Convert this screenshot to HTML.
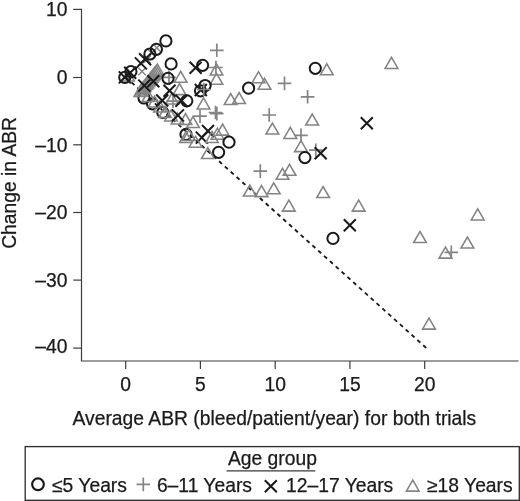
<!DOCTYPE html>
<html lang="en"><head><meta charset="utf-8"><title>Change in ABR</title>
<style>html,body{margin:0;padding:0;background:#fff}svg{display:block;will-change:transform}text{stroke:#1a1a1a;stroke-width:.25px}</style></head>
<body>
<svg width="520" height="501" viewBox="0 0 520 501" font-family="'Liberation Sans', Arial, sans-serif" fill="#1a1a1a">
<rect width="520" height="501" fill="#fff"/>
<g stroke="#3c3c3c" stroke-width="1.2" fill="none">
<path d="M81.5 8.8V361.0H518.5"/>
<path d="M73.2 9.4H81.5"/>
<path d="M73.2 77.5H81.5"/>
<path d="M73.2 144.8H81.5"/>
<path d="M73.2 212.5H81.5"/>
<path d="M73.2 280.1H81.5"/>
<path d="M73.2 348.1H81.5"/>
<path d="M125.7 361.0V369.0"/>
<path d="M200.4 361.0V369.0"/>
<path d="M275.2 361.0V369.0"/>
<path d="M349.9 361.0V369.0"/>
<path d="M424.7 361.0V369.0"/>
</g>
<g font-size="19.3">
<text x="67.4" y="16.2" text-anchor="end">10</text>
<text x="67.4" y="84.3" text-anchor="end">0</text>
<text x="67.4" y="151.6" text-anchor="end">–10</text>
<text x="67.4" y="219.3" text-anchor="end">–20</text>
<text x="67.4" y="286.9" text-anchor="end">–30</text>
<text x="67.4" y="352.8" text-anchor="end">–40</text>
<text x="125.7" y="391.2" text-anchor="middle">0</text>
<text x="200.4" y="391.2" text-anchor="middle">5</text>
<text x="275.2" y="391.2" text-anchor="middle">10</text>
<text x="349.9" y="391.2" text-anchor="middle">15</text>
<text x="424.7" y="391.2" text-anchor="middle">20</text>
</g>
<text x="274.4" y="425.4" font-size="19.3" text-anchor="middle">Average ABR (bleed/patient/year) for both trials</text>
<text transform="translate(16.2,182.9) rotate(-90)" font-size="19.3" text-anchor="middle">Change in ABR</text>
<path d="M125.7 77.1L426.2 347.9" stroke="#1a1a1a" stroke-width="1.85" stroke-dasharray="4 3.853" fill="none"/>
<circle cx="144.0" cy="98.0" r="5.6" fill="none" stroke="#1a1a1a" stroke-width="2"/>
<circle cx="152.5" cy="103.8" r="5.6" fill="none" stroke="#1a1a1a" stroke-width="2"/>
<circle cx="162.8" cy="112.4" r="5.6" fill="none" stroke="#1a1a1a" stroke-width="2"/>
<circle cx="186.0" cy="134.4" r="5.6" fill="none" stroke="#1a1a1a" stroke-width="2"/>
<circle cx="165.9" cy="40.9" r="5.6" fill="none" stroke="#1a1a1a" stroke-width="2"/>
<circle cx="171.1" cy="63.9" r="5.6" fill="none" stroke="#1a1a1a" stroke-width="2"/>
<circle cx="315.3" cy="68.3" r="5.6" fill="none" stroke="#1a1a1a" stroke-width="2"/>
<path d="M320.4 74.8L326.8 63.8L333.2 74.8Z" fill="none" stroke="#848484" stroke-width="1.55" stroke-linejoin="miter"/>
<path d="M210.0 50.3H223.6M216.8 43.5V57.1" fill="none" stroke="#848484" stroke-width="1.7"/>
<path d="M360.8 117.3L372.8 129.3M360.8 129.3L372.8 117.3" fill="none" stroke="#1a1a1a" stroke-width="2"/>
<path d="M385.1 68.4L391.5 57.4L397.9 68.4Z" fill="none" stroke="#848484" stroke-width="1.55" stroke-linejoin="miter"/>
<path d="M189.6 61.7L201.6 73.7M189.6 73.7L201.6 61.7" fill="none" stroke="#1a1a1a" stroke-width="2"/>
<circle cx="202.6" cy="65.3" r="5.6" fill="none" stroke="#1a1a1a" stroke-width="2"/>
<path d="M209.1 67.5H222.7M215.9 60.7V74.3" fill="none" stroke="#848484" stroke-width="1.7"/>
<path d="M210.2 74.9L216.5 63.9L222.8 74.9Z" fill="none" stroke="#848484" stroke-width="1.55" stroke-linejoin="miter"/>
<path d="M210.2 84.3L216.5 73.3L222.8 84.3Z" fill="none" stroke="#848484" stroke-width="1.55" stroke-linejoin="miter"/>
<circle cx="205.1" cy="85.5" r="5.6" fill="none" stroke="#1a1a1a" stroke-width="2"/>
<circle cx="200.5" cy="90.8" r="5.6" fill="none" stroke="#1a1a1a" stroke-width="2"/>
<path d="M194.8 84.0L206.8 96.0M194.8 96.0L206.8 84.0" fill="none" stroke="#1a1a1a" stroke-width="2"/>
<circle cx="248.6" cy="88.2" r="5.6" fill="none" stroke="#1a1a1a" stroke-width="2"/>
<path d="M252.2 82.7L258.5 71.7L264.9 82.7Z" fill="none" stroke="#848484" stroke-width="1.55" stroke-linejoin="miter"/>
<path d="M258.1 89.3L264.5 78.3L270.9 89.3Z" fill="none" stroke="#848484" stroke-width="1.55" stroke-linejoin="miter"/>
<path d="M224.3 104.5L230.7 93.5L237.0 104.5Z" fill="none" stroke="#848484" stroke-width="1.55" stroke-linejoin="miter"/>
<path d="M232.8 103.5L239.1 92.5L245.4 103.5Z" fill="none" stroke="#848484" stroke-width="1.55" stroke-linejoin="miter"/>
<path d="M197.2 108.9L203.5 97.9L209.8 108.9Z" fill="none" stroke="#848484" stroke-width="1.55" stroke-linejoin="miter"/>
<path d="M208.7 112.5H222.3M215.5 105.7V119.3" fill="none" stroke="#848484" stroke-width="1.7"/>
<path d="M210.0 113.6H223.6M216.8 106.8V120.4" fill="none" stroke="#848484" stroke-width="1.7"/>
<path d="M193.2 116.2H206.8M200.0 109.4V123.0" fill="none" stroke="#848484" stroke-width="1.7"/>
<path d="M174.3 82.3L180.7 71.3L187.0 82.3Z" fill="none" stroke="#848484" stroke-width="1.55" stroke-linejoin="miter"/>
<path d="M262.4 115.0H276.0M269.2 108.2V121.8" fill="none" stroke="#848484" stroke-width="1.7"/>
<path d="M186.7 127.5L193.0 116.5L199.3 127.5Z" fill="none" stroke="#848484" stroke-width="1.55" stroke-linejoin="miter"/>
<path d="M179.2 124.5L185.5 113.5L191.8 124.5Z" fill="none" stroke="#848484" stroke-width="1.55" stroke-linejoin="miter"/>
<path d="M202.0 125.0L214.0 137.0M202.0 137.0L214.0 125.0" fill="none" stroke="#1a1a1a" stroke-width="2"/>
<path d="M195.8 131.6L207.8 143.6M195.8 143.6L207.8 131.6" fill="none" stroke="#1a1a1a" stroke-width="2"/>
<path d="M216.2 135.1L222.6 124.1L228.9 135.1Z" fill="none" stroke="#848484" stroke-width="1.55" stroke-linejoin="miter"/>
<path d="M211.1 139.2L217.4 128.2L223.8 139.2Z" fill="none" stroke="#848484" stroke-width="1.55" stroke-linejoin="miter"/>
<path d="M205.7 142.5L212.0 131.5L218.3 142.5Z" fill="none" stroke="#848484" stroke-width="1.55" stroke-linejoin="miter"/>
<path d="M189.2 147.2L195.6 136.2L201.9 147.2Z" fill="none" stroke="#848484" stroke-width="1.55" stroke-linejoin="miter"/>
<circle cx="229.0" cy="142.2" r="5.6" fill="none" stroke="#1a1a1a" stroke-width="2"/>
<circle cx="218.6" cy="152.3" r="5.6" fill="none" stroke="#1a1a1a" stroke-width="2"/>
<path d="M201.5 158.5L207.8 147.5L214.2 158.5Z" fill="none" stroke="#848484" stroke-width="1.55" stroke-linejoin="miter"/>
<path d="M253.5 171.1H267.1M260.3 164.3V177.9" fill="none" stroke="#848484" stroke-width="1.7"/>
<path d="M277.7 83.4H291.3M284.5 76.6V90.2" fill="none" stroke="#848484" stroke-width="1.7"/>
<path d="M300.8 96.8H314.4M307.6 90.0V103.6" fill="none" stroke="#848484" stroke-width="1.7"/>
<path d="M305.8 125.0L312.2 114.0L318.6 125.0Z" fill="none" stroke="#848484" stroke-width="1.55" stroke-linejoin="miter"/>
<path d="M266.0 134.0L272.4 123.0L278.8 134.0Z" fill="none" stroke="#848484" stroke-width="1.55" stroke-linejoin="miter"/>
<path d="M283.9 138.4L290.3 127.4L296.7 138.4Z" fill="none" stroke="#848484" stroke-width="1.55" stroke-linejoin="miter"/>
<path d="M294.2 135.4H307.8M301.0 128.6V142.2" fill="none" stroke="#848484" stroke-width="1.7"/>
<path d="M294.6 151.6L301.0 140.6L307.4 151.6Z" fill="none" stroke="#848484" stroke-width="1.55" stroke-linejoin="miter"/>
<path d="M309.0 150.2H322.6M315.8 143.4V157.0" fill="none" stroke="#848484" stroke-width="1.7"/>
<path d="M314.7 147.3L326.7 159.3M314.7 159.3L326.7 147.3" fill="none" stroke="#1a1a1a" stroke-width="2"/>
<circle cx="304.9" cy="157.6" r="5.6" fill="none" stroke="#1a1a1a" stroke-width="2"/>
<path d="M283.1 175.3L289.5 164.3L295.9 175.3Z" fill="none" stroke="#848484" stroke-width="1.55" stroke-linejoin="miter"/>
<path d="M276.1 179.3L282.5 168.3L288.9 179.3Z" fill="none" stroke="#848484" stroke-width="1.55" stroke-linejoin="miter"/>
<path d="M267.3 193.8L273.7 182.8L280.1 193.8Z" fill="none" stroke="#848484" stroke-width="1.55" stroke-linejoin="miter"/>
<path d="M255.2 196.6L261.5 185.6L267.9 196.6Z" fill="none" stroke="#848484" stroke-width="1.55" stroke-linejoin="miter"/>
<path d="M243.5 196.0L249.8 185.0L256.2 196.0Z" fill="none" stroke="#848484" stroke-width="1.55" stroke-linejoin="miter"/>
<path d="M282.5 211.1L288.9 200.1L295.2 211.1Z" fill="none" stroke="#848484" stroke-width="1.55" stroke-linejoin="miter"/>
<path d="M316.8 197.5L323.1 186.5L329.5 197.5Z" fill="none" stroke="#848484" stroke-width="1.55" stroke-linejoin="miter"/>
<path d="M352.3 211.1L358.7 200.1L365.1 211.1Z" fill="none" stroke="#848484" stroke-width="1.55" stroke-linejoin="miter"/>
<path d="M343.8 219.3L355.8 231.3M343.8 231.3L355.8 219.3" fill="none" stroke="#1a1a1a" stroke-width="2"/>
<circle cx="333.0" cy="238.4" r="5.6" fill="none" stroke="#1a1a1a" stroke-width="2"/>
<path d="M471.3 219.9L477.7 208.9L484.1 219.9Z" fill="none" stroke="#848484" stroke-width="1.55" stroke-linejoin="miter"/>
<path d="M413.6 242.5L420.0 231.5L426.4 242.5Z" fill="none" stroke="#848484" stroke-width="1.55" stroke-linejoin="miter"/>
<path d="M461.0 248.0L467.4 237.0L473.8 248.0Z" fill="none" stroke="#848484" stroke-width="1.55" stroke-linejoin="miter"/>
<path d="M439.1 258.1L445.5 247.1L451.9 258.1Z" fill="none" stroke="#848484" stroke-width="1.55" stroke-linejoin="miter"/>
<path d="M444.5 252.3H458.1M451.3 245.5V259.1" fill="none" stroke="#848484" stroke-width="1.7"/>
<path d="M422.6 329.1L429.0 318.1L435.4 329.1Z" fill="none" stroke="#848484" stroke-width="1.55" stroke-linejoin="miter"/>
<path d="M151.1 75.1L157.4 64.1L163.8 75.1Z" fill="none" stroke="#848484" stroke-width="1.55" stroke-linejoin="miter"/>
<path d="M150.0 76.5L156.3 65.5L162.7 76.5Z" fill="none" stroke="#848484" stroke-width="1.55" stroke-linejoin="miter"/>
<path d="M148.8 77.9L155.1 66.9L161.4 77.9Z" fill="none" stroke="#848484" stroke-width="1.55" stroke-linejoin="miter"/>
<path d="M147.7 79.4L154.0 68.4L160.3 79.4Z" fill="none" stroke="#848484" stroke-width="1.55" stroke-linejoin="miter"/>
<path d="M146.6 80.8L152.9 69.8L159.2 80.8Z" fill="none" stroke="#848484" stroke-width="1.55" stroke-linejoin="miter"/>
<path d="M145.3 82.2L151.7 71.2L158.0 82.2Z" fill="none" stroke="#848484" stroke-width="1.55" stroke-linejoin="miter"/>
<path d="M144.2 83.6L150.6 72.6L156.9 83.6Z" fill="none" stroke="#848484" stroke-width="1.55" stroke-linejoin="miter"/>
<path d="M143.2 85.0L149.5 74.0L155.8 85.0Z" fill="none" stroke="#848484" stroke-width="1.55" stroke-linejoin="miter"/>
<path d="M142.0 86.5L148.3 75.5L154.7 86.5Z" fill="none" stroke="#848484" stroke-width="1.55" stroke-linejoin="miter"/>
<path d="M140.8 87.9L147.2 76.9L153.5 87.9Z" fill="none" stroke="#848484" stroke-width="1.55" stroke-linejoin="miter"/>
<path d="M139.8 89.3L146.1 78.3L152.4 89.3Z" fill="none" stroke="#848484" stroke-width="1.55" stroke-linejoin="miter"/>
<path d="M138.6 90.7L144.9 79.7L151.2 90.7Z" fill="none" stroke="#848484" stroke-width="1.55" stroke-linejoin="miter"/>
<path d="M137.5 92.1L143.8 81.1L150.2 92.1Z" fill="none" stroke="#848484" stroke-width="1.55" stroke-linejoin="miter"/>
<path d="M136.3 93.6L142.7 82.6L149.0 93.6Z" fill="none" stroke="#848484" stroke-width="1.55" stroke-linejoin="miter"/>
<path d="M135.2 95.0L141.5 84.0L147.8 95.0Z" fill="none" stroke="#848484" stroke-width="1.55" stroke-linejoin="miter"/>
<path d="M134.1 96.4L140.4 85.4L146.8 96.4Z" fill="none" stroke="#848484" stroke-width="1.55" stroke-linejoin="miter"/>
<path d="M142.2 101.5L148.5 90.5L154.8 101.5Z" fill="none" stroke="#848484" stroke-width="1.55" stroke-linejoin="miter"/>
<path d="M148.2 107.0L154.5 96.0L160.8 107.0Z" fill="none" stroke="#848484" stroke-width="1.55" stroke-linejoin="miter"/>
<path d="M153.7 112.0L160.0 101.0L166.3 112.0Z" fill="none" stroke="#848484" stroke-width="1.55" stroke-linejoin="miter"/>
<path d="M158.7 117.5L165.0 106.5L171.3 117.5Z" fill="none" stroke="#848484" stroke-width="1.55" stroke-linejoin="miter"/>
<path d="M164.7 121.0L171.0 110.0L177.3 121.0Z" fill="none" stroke="#848484" stroke-width="1.55" stroke-linejoin="miter"/>
<path d="M171.2 124.0L177.5 113.0L183.8 124.0Z" fill="none" stroke="#848484" stroke-width="1.55" stroke-linejoin="miter"/>
<path d="M179.7 142.5L186.0 131.5L192.3 142.5Z" fill="none" stroke="#848484" stroke-width="1.55" stroke-linejoin="miter"/>
<path d="M182.7 140.5L189.0 129.5L195.3 140.5Z" fill="none" stroke="#848484" stroke-width="1.55" stroke-linejoin="miter"/>
<path d="M173.2 94.6L179.5 83.6L185.8 94.6Z" fill="none" stroke="#848484" stroke-width="1.55" stroke-linejoin="miter"/>
<path d="M165.7 104.0L172.0 93.0L178.3 104.0Z" fill="none" stroke="#848484" stroke-width="1.55" stroke-linejoin="miter"/>
<path d="M121.7 81.0L128.0 70.0L134.3 81.0Z" fill="none" stroke="#848484" stroke-width="1.55" stroke-linejoin="miter"/>
<path d="M138.2 67.7L145.8 75.3M138.2 75.3L145.8 67.7" fill="none" stroke="#848484" stroke-width="1.4"/>
<path d="M143.2 55.6L150.8 63.2M143.2 63.2L150.8 55.6" fill="none" stroke="#848484" stroke-width="1.4"/>
<path d="M148.0 49.5L155.6 57.1M148.0 57.1L155.6 49.5" fill="none" stroke="#848484" stroke-width="1.4"/>
<path d="M153.0 44.1L160.6 51.7M153.0 51.7L160.6 44.1" fill="none" stroke="#848484" stroke-width="1.4"/>
<path d="M197.0 89.5H210.6M203.8 82.7V96.3" fill="none" stroke="#848484" stroke-width="1.7"/>
<path d="M166.2 101.2H179.8M173.0 94.4V108.0" fill="none" stroke="#848484" stroke-width="1.7"/>
<path d="M162.2 77.4H175.8M169.0 70.6V84.2" fill="none" stroke="#848484" stroke-width="1.7"/>
<circle cx="156.4" cy="49.3" r="5.6" fill="none" stroke="#1a1a1a" stroke-width="2"/>
<circle cx="149.9" cy="54.0" r="5.6" fill="none" stroke="#1a1a1a" stroke-width="2"/>
<circle cx="124.8" cy="77.4" r="5.6" fill="none" stroke="#1a1a1a" stroke-width="2"/>
<circle cx="130.9" cy="71.7" r="5.6" fill="none" stroke="#1a1a1a" stroke-width="2"/>
<path d="M118.8 71.4L130.8 83.4M118.8 83.4L130.8 71.4" fill="none" stroke="#1a1a1a" stroke-width="2"/>
<path d="M124.2 66.7L136.2 78.7M124.2 78.7L136.2 66.7" fill="none" stroke="#1a1a1a" stroke-width="2"/>
<path d="M134.9 57.4L146.9 69.4M134.9 69.4L146.9 57.4" fill="none" stroke="#1a1a1a" stroke-width="2"/>
<path d="M139.1 53.3L151.1 65.3M139.1 65.3L151.1 53.3" fill="none" stroke="#1a1a1a" stroke-width="2"/>
<circle cx="168.0" cy="78.3" r="5.6" fill="none" stroke="#1a1a1a" stroke-width="2"/>
<path d="M147.3 75.3L159.3 87.3M147.3 87.3L159.3 75.3" fill="none" stroke="#1a1a1a" stroke-width="2"/>
<path d="M138.3 79.6L150.3 91.6M138.3 91.6L150.3 79.6" fill="none" stroke="#1a1a1a" stroke-width="2"/>
<path d="M163.5 84.8L175.5 96.8M163.5 96.8L175.5 84.8" fill="none" stroke="#1a1a1a" stroke-width="2"/>
<path d="M175.4 94.7L187.4 106.7M175.4 106.7L187.4 94.7" fill="none" stroke="#1a1a1a" stroke-width="2"/>
<path d="M156.2 94.5L168.2 106.5M156.2 106.5L168.2 94.5" fill="none" stroke="#1a1a1a" stroke-width="2"/>
<path d="M171.9 109.4L183.9 121.4M171.9 121.4L183.9 109.4" fill="none" stroke="#1a1a1a" stroke-width="2"/>
<circle cx="186.8" cy="100.8" r="5.6" fill="none" stroke="#1a1a1a" stroke-width="2"/>
<rect x="25.2" y="446.6" width="494.1" height="53.7" fill="#fff" stroke="#303030" stroke-width="1.35"/>
<text x="272.4" y="464.8" font-size="19.3" text-anchor="middle">Age group</text>
<path d="M226.5 470.8H315.3" stroke="#3a3a3a" stroke-width="1.2"/>
<circle cx="38" cy="484.3" r="5.85" fill="none" stroke="#1a1a1a" stroke-width="2.15"/>
<text x="52" y="491.6" font-size="19.3">≤5 Years</text>
<path d="M136.5 484.4H150.1M143.3 477.6V491.2" fill="none" stroke="#848484" stroke-width="1.7"/>
<text x="156.9" y="491.6" font-size="19.3">6–11 Years</text>
<path d="M264.8 480.2L276.8 492.2M264.8 492.2L276.8 480.2" fill="none" stroke="#1a1a1a" stroke-width="2"/>
<text x="286" y="491.6" font-size="19.3">12–17 Years</text>
<path d="M406.4 491.1L412.8 480.1L419.1 491.1Z" fill="none" stroke="#848484" stroke-width="1.55" stroke-linejoin="miter"/>
<text x="427" y="491.6" font-size="19.3">≥18 Years</text>
</svg>
</body></html>
